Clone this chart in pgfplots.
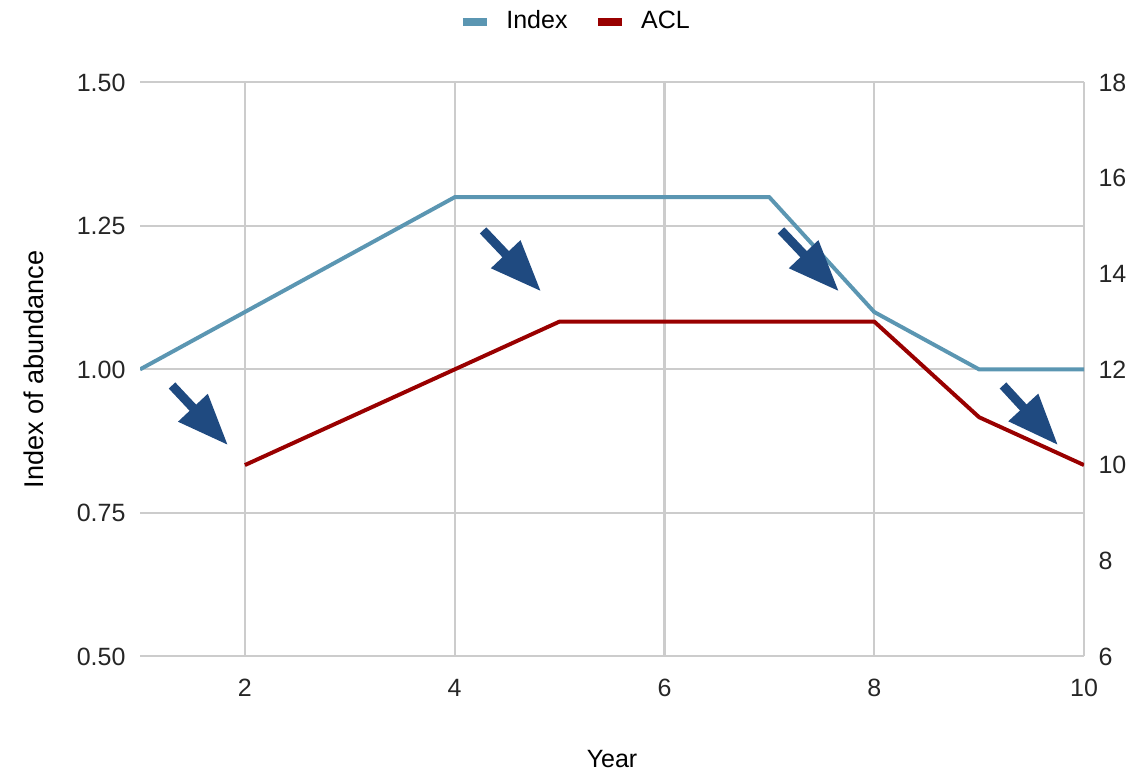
\documentclass[border=0pt]{standalone}
\usepackage{pgfplots}
\pgfplotsset{compat=1.18}
\usepackage{fontspec}
\setmainfont{Liberation Sans}
\usetikzlibrary{arrows.meta}

\definecolor{indexc}{HTML}{5B96B2}
\definecolor{aclc}{HTML}{990000}
\definecolor{arrowc}{HTML}{1F4A80}
\definecolor{gridc}{HTML}{CCCCCC}

\begin{document}
\begin{tikzpicture}[font=\fontsize{9.5}{11}\selectfont]
\pgfplotsset{
  common/.style={
    scale only axis,
    width=358.7pt, height=218.1pt,
    xmin=1, xmax=10,
    major tick length=0pt,
    axis line style={draw=none},
    tick label style={text=black!85},
    /pgf/number format/assume math mode=true,
  },
}
\tikzset{bigarrow/.style={arrowc, line width=3.4pt, -{Triangle[width=14.5pt, length=19.5pt]}}}
\begin{axis}[
  common,
  name=ax,
  ymin=0.5, ymax=1.5,
  ytick={0.5,0.75,1,1.25,1.5},
  yticklabel style={xshift=-2pt, /pgf/number format/fixed,
    /pgf/number format/fixed zerofill, /pgf/number format/precision=2},
  xtick={2,4,6,8,10},
  grid=major,
  major grid style={gridc, line width=0.8pt},
  xticklabel style={yshift=-5pt},
  ylabel={Index of abundance},
  ylabel style={at={(axis description cs:-0.113,0.5)}, anchor=center,
    font=\fontsize{10.3}{12}\selectfont},
  xlabel={Year},
  xlabel style={at={(axis description cs:0.5,-0.178)}, anchor=center},
]
\addplot[indexc, line width=1.5pt] coordinates {
  (1,1.0) (2,1.1) (3,1.2) (4,1.3) (5,1.3) (6,1.3) (7,1.3) (8,1.1) (9,1.0) (10,1.0)
};
\end{axis}
\begin{axis}[
  common,
  ymin=6, ymax=18,
  ytick={6,8,...,18},
  axis y line*=right,
  axis x line=none,
  yticklabel style={xshift=2pt},
  legend style={draw=none, fill=none, legend columns=2,
    at={(axis description cs:0.463,1.106)}, anchor=center,
    /tikz/every odd column/.append style={column sep=4pt},
    /tikz/every even column/.append style={column sep=8pt}},
  legend image code/.code={\draw[#1, line width=3pt] (0pt,0pt) -- (9pt,0pt);},
]
\addlegendimage{indexc}
\addlegendentry{Index}
\addplot[aclc, line width=1.5pt] coordinates {
  (2,10) (3,11) (4,12) (5,13) (6,13) (7,13) (8,13) (9,11) (10,10)
};
\addlegendentry{ACL}
\draw[bigarrow] (rel axis cs:0.0339,0.472) -- (rel axis cs:0.0932,0.368);
\draw[bigarrow] (rel axis cs:0.3634,0.7422) -- (rel axis cs:0.4248,0.6359);
\draw[bigarrow] (rel axis cs:0.6790,0.7422) -- (rel axis cs:0.7404,0.6359);
\draw[bigarrow] (rel axis cs:0.9142,0.472) -- (rel axis cs:0.9725,0.368);
\end{axis}
\path (ax.south west) ++(-53.2pt,-44.1pt) coordinate (bl);
\path (ax.north east) ++(20.9pt,30pt) coordinate (tr);
\path (bl) rectangle (tr);
\end{tikzpicture}
\end{document}
